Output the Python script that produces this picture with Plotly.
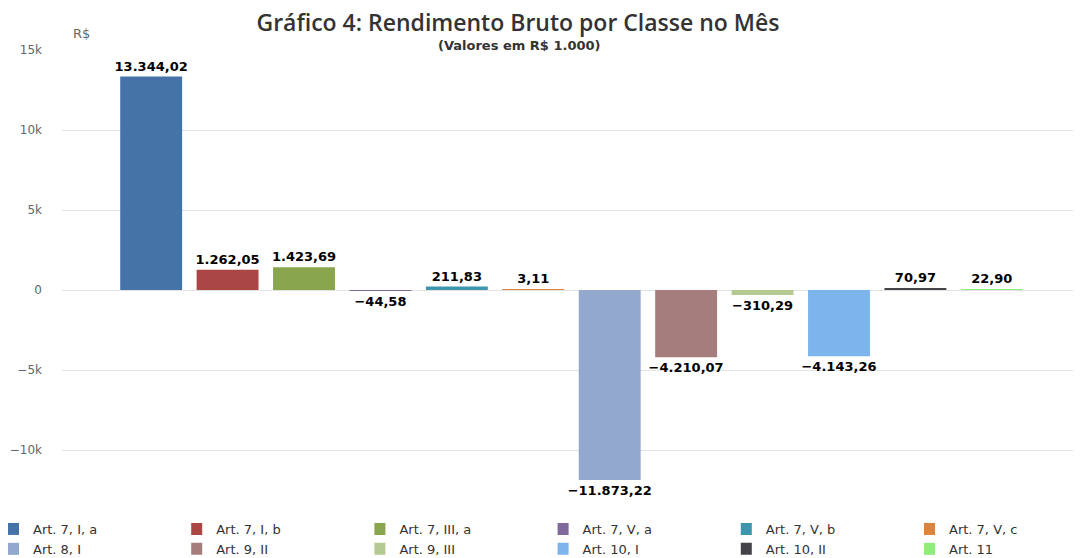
import plotly.graph_objects as go

series_names = ["Art. 7, I, a", "Art. 7, I, b", "Art. 7, III, a", "Art. 7, V, a",
                "Art. 7, V, b", "Art. 7, V, c", "Art. 8, I", "Art. 9, II",
                "Art. 9, III", "Art. 10, I", "Art. 10, II", "Art. 11"]
values = [13344.02, 1262.05, 1423.69, -44.58, 211.83, 3.11,
          -11873.22, -4210.07, -310.29, -4143.26, 70.97, 22.90]
colors = ["#4572A7", "#AA4643", "#89A54E", "#80699B", "#3D96AE", "#DB843D",
          "#92A8CD", "#A47D7C", "#B5CA92", "#7CB5EC", "#434348", "#90ED7D"]
tick_vals = [-10000, -5000, 0, 5000, 10000, 15000]
tick_text = ["−10k", "−5k", "0", "5k", "10k", "15k"]
category = [""]


def fmt_br(v):
    s = f"{abs(v):,.2f}"
    s = s.replace(",", "X").replace(".", ",").replace("X", ".")
    return ("−" if v < 0 else "") + s


FONT = "DejaVu Sans"
TITLE_FONT = "Open Sans"
W, H = 1120, 558
N_COLS = 6
legend_ids = ["legend"] + [f"legend{k}" for k in range(2, N_COLS + 1)]

fig = go.Figure()
for i, (name, v, c) in enumerate(zip(series_names, values, colors)):
    fig.add_trace(go.Bar(
        x=category, y=[v], name=name, marker=dict(color=c, line=dict(width=0)),
        text=[fmt_br(v)], textposition="outside", constraintext="none",
        cliponaxis=False, legend=legend_ids[i % N_COLS],
        textfont=dict(family=FONT, size=13, color="#000000", weight="bold"),
    ))

legend_layouts = {}
for k, lid in enumerate(legend_ids):
    legend_layouts[lid] = dict(
        orientation="v", xref="container", x=183.2 * k / W, xanchor="left",
        yref="container", y=0.0932, yanchor="top", indentation=-15,
        traceorder="normal", bgcolor="rgba(0,0,0,0)",
        font=dict(family=FONT, size=13, color="#333333"))

fig.update_layout(
    width=W, height=H,
    margin=dict(l=54, r=47, t=42, b=61, autoexpand=False),
    paper_bgcolor="white", plot_bgcolor="white",
    barmode="group", bargap=0.1, bargroupgap=0.19,
    font=dict(family=FONT, color="#333333"),
    title=dict(text="Gráfico 4: Rendimento Bruto por Classe no Mês",
               x=510 / W, xanchor="center", y=0.973, yanchor="middle",
               font=dict(family=TITLE_FONT, size=23, color="#333333", weight=600)),
    showlegend=True,
    xaxis=dict(showticklabels=False, showgrid=False, zeroline=False,
               showline=False, ticks="", automargin=False),
    yaxis=dict(range=[-13437, 15000], tickvals=tick_vals, ticktext=tick_text,
               showgrid=True, gridcolor="#e3e3e3", gridwidth=1,
               zeroline=True, zerolinecolor="#e3e3e3", zerolinewidth=1,
               showline=False, ticks="", ticklabelstandoff=19, automargin=False,
               tickfont=dict(family=FONT, size=12, color="#666666")),
    annotations=[
        dict(text="<b>(Valores em R$ 1.000)</b>", xref="paper", yref="paper",
             x=0.4485, y=1.0, xanchor="center", yanchor="bottom", yshift=-5,
             showarrow=False, font=dict(family=FONT, size=13, color="#333333")),
        dict(text="R$", xref="paper", yref="paper", x=0.0088, y=1.037,
             xanchor="left", yanchor="middle", showarrow=False,
             font=dict(family=FONT, size=13, color="#666666")),
    ],
    **legend_layouts,
)

fig.write_html("out.html")
